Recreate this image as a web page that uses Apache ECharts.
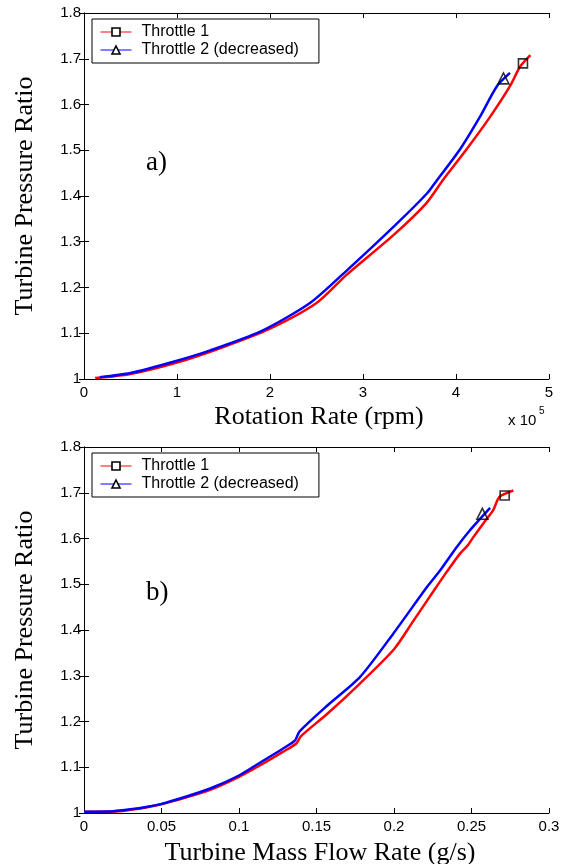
<!DOCTYPE html>
<html>
<head>
<meta charset="utf-8">
<script src="https://cdn.jsdelivr.net/npm/echarts@6/dist/echarts.min.js"></script>
<style>
  html, body { margin: 0; padding: 0; background: #fff; }
  #chart { width: 567px; height: 864px; }
</style>
</head>
<body>
<div id="chart"></div>
<script>
// panel a) : rotation rate (rpm) vs turbine pressure ratio
var rotRed = [12000, 50000, 100000, 150000, 200000, 250000, 282000, 333000, 368000, 386000, 411000, 437000, 458000, 469000, 480000];
var prRotRed = [1.002, 1.011, 1.036, 1.070, 1.11, 1.166, 1.227, 1.315, 1.384, 1.435, 1.501, 1.574, 1.640, 1.683, 1.708];
var rotBlue = [17000, 50000, 100000, 135000, 190000, 243000, 283000, 333000, 369000, 379000, 404000, 426000, 444000, 458000];
var prRotBlue = [1.004, 1.013, 1.040, 1.062, 1.104, 1.166, 1.238, 1.333, 1.406, 1.433, 1.501, 1.574, 1.640, 1.669];
var rotMarkSquare = [472000, 1.690];
var rotMarkTriangle = [451000, 1.657];

// panel b) : turbine mass flow rate (g/s) vs turbine pressure ratio
var flowRed = [0, 0.019, 0.03, 0.04, 0.05, 0.065, 0.081, 0.1, 0.114, 0.128, 0.137, 0.140, 0.157, 0.178, 0.2, 0.2125, 0.2265, 0.234, 0.2426, 0.2476, 0.2512, 0.2576, 0.264, 0.268, 0.277];
var prFlowRed = [1.003, 1.003, 1.007, 1.012, 1.019, 1.033, 1.05, 1.079, 1.105, 1.133, 1.152, 1.168, 1.217, 1.283, 1.358, 1.42, 1.49, 1.527, 1.567, 1.585, 1.603, 1.633, 1.662, 1.691, 1.705];
var flowBlue = [0, 0.019, 0.03, 0.04, 0.05, 0.065, 0.081, 0.1, 0.114, 0.128, 0.136, 0.139, 0.157, 0.178, 0.1995, 0.2215, 0.2297, 0.2404, 0.249, 0.262];
var prFlowBlue = [1.003, 1.004, 1.008, 1.013, 1.02, 1.035, 1.053, 1.082, 1.111, 1.14, 1.158, 1.178, 1.235, 1.297, 1.392, 1.495, 1.53, 1.581, 1.618, 1.667];
var flowMarkSquare = [0.2714, 1.694];
var flowMarkTriangle = [0.257, 1.654];

var seriesNames = ['Throttle 1', 'Throttle 2 (decreased)'];
var yTicks = {min: 1, max: 1.8, interval: 0.1};

function pairs(xs, ys) {
    return xs.map(function (x, i) { return [x, ys[i]]; });
}

var sans = 'Liberation Sans, Arial, sans-serif';
var serif = 'Liberation Serif, Times New Roman, serif';

function xAxisOf(grid, min, max, interval, fmt) {
    return [
        {
            type: 'value', gridIndex: grid, position: 'bottom',
            min: min, max: max, interval: interval,
            axisLine: {lineStyle: {color: '#000', width: 1}},
            axisTick: {inside: true, length: 5, lineStyle: {color: '#000'}},
            axisLabel: {color: '#000', fontFamily: sans, fontSize: 15, margin: 6, formatter: fmt},
            splitLine: {show: false}
        },
        {
            type: 'value', gridIndex: grid, position: 'top',
            min: min, max: max, interval: interval,
            axisLine: {lineStyle: {color: '#000', width: 1}},
            axisTick: {inside: true, length: 5, lineStyle: {color: '#000'}},
            axisLabel: {show: false},
            splitLine: {show: false}
        }
    ];
}

function yAxisOf(grid) {
    return [
        {
            type: 'value', gridIndex: grid, position: 'left',
            min: yTicks.min, max: yTicks.max, interval: yTicks.interval,
            axisLine: {show: true, lineStyle: {color: '#000', width: 1}},
            axisTick: {show: true, inside: true, length: 5, lineStyle: {color: '#000'}},
            axisLabel: {color: '#000', fontFamily: sans, fontSize: 15, margin: 3},
            splitLine: {show: false}
        },
        {
            type: 'value', gridIndex: grid, position: 'right',
            min: yTicks.min, max: yTicks.max, interval: yTicks.interval,
            axisLine: {show: true, lineStyle: {color: '#000', width: 1}},
            axisTick: {show: true, inside: true, length: 5, lineStyle: {color: '#000'}},
            axisLabel: {show: false},
            splitLine: {show: false}
        }
    ];
}

function lineSeries(name, color, symbol, axisIdx, data) {
    return {
        name: name, type: 'line', xAxisIndex: axisIdx, yAxisIndex: axisIdx,
        data: data, showSymbol: false, symbol: symbol,
        smooth: 0.25,
        lineStyle: {color: color, width: 2.5},
        itemStyle: {color: color},
        silent: true, animation: false
    };
}

function markSeries(symbol, size, axisIdx, pt) {
    return {
        type: 'scatter', xAxisIndex: axisIdx, yAxisIndex: axisIdx,
        data: [pt], symbol: symbol, symbolSize: size, z: 5,
        itemStyle: {color: 'rgba(0,0,0,0)', borderColor: '#000', borderWidth: 1.6},
        silent: true, animation: false
    };
}

function legendAt(top) {
    return {
        data: seriesNames, orient: 'vertical', left: 92, top: top,
        backgroundColor: '#fff', borderColor: '#000', borderWidth: 1,
        padding: [5, 20, 5, 8], itemGap: 2,
        itemWidth: 31, itemHeight: 10,
        lineStyle: {width: 1},
        itemStyle: {color: '#fff', borderColor: '#000', borderWidth: 1.6},
        textStyle: {color: '#000', fontFamily: sans, fontSize: 16, lineHeight: 16, padding: [0, 0, 0, 5]},
        selectedMode: false
    };
}

var chart = echarts.init(document.getElementById('chart'));

chart.setOption({
    backgroundColor: '#fff',
    animation: false,
    grid: [
        {left: 84, right: 18, top: 13, height: 366},
        {left: 84, right: 18, top: 447, height: 366}
    ],
    xAxis: xAxisOf(0, 0, 500000, 100000, function (v) { return v / 100000; })
        .concat(xAxisOf(1, 0, 0.3, 0.05)),
    yAxis: yAxisOf(0).concat(yAxisOf(1)),
    legend: [legendAt(19), legendAt(453)],
    series: [
        // top panel uses axis 0 (bottom/left), bottom panel axis 2
        lineSeries(seriesNames[0], '#ff0000', 'rect', 0, pairs(rotRed, prRotRed)),
        lineSeries(seriesNames[1], '#0000ff', 'triangle', 0, pairs(rotBlue, prRotBlue)),
        markSeries('rect', 9, 0, rotMarkSquare),
        markSeries('triangle', 11, 0, rotMarkTriangle),
        lineSeries(seriesNames[0], '#ff0000', 'rect', 2, pairs(flowRed, prFlowRed)),
        lineSeries(seriesNames[1], '#0000ff', 'triangle', 2, pairs(flowBlue, prFlowBlue)),
        markSeries('rect', 9, 2, flowMarkSquare),
        markSeries('triangle', 11, 2, flowMarkTriangle)
    ],
    graphic: [
        // axis titles (serif, as in the original figure)
        {type: 'text', x: 25, y: 196, rotation: Math.PI / 2,
            style: {text: 'Turbine Pressure Ratio', font: '26px ' + serif, fill: '#000', align: 'center', verticalAlign: 'middle'}},
        {type: 'text', x: 25, y: 630, rotation: Math.PI / 2,
            style: {text: 'Turbine Pressure Ratio', font: '26px ' + serif, fill: '#000', align: 'center', verticalAlign: 'middle'}},
        {type: 'text', x: 319, y: 417,
            style: {text: 'Rotation Rate (rpm)', font: '26px ' + serif, fill: '#000', align: 'center', verticalAlign: 'middle'}},
        {type: 'text', x: 320, y: 853,
            style: {text: 'Turbine Mass Flow Rate (g/s)', font: '26px ' + serif, fill: '#000', align: 'center', verticalAlign: 'middle'}},
        // panel tags
        {type: 'text', x: 146, y: 163,
            style: {text: 'a)', font: '27px ' + serif, fill: '#000', align: 'left', verticalAlign: 'middle'}},
        {type: 'text', x: 146, y: 593,
            style: {text: 'b)', font: '27px ' + serif, fill: '#000', align: 'left', verticalAlign: 'middle'}},
        // exponent of the rpm axis
        {type: 'text', x: 508, y: 421,
            style: {text: 'x 10', font: '15px ' + sans, fill: '#000', align: 'left', verticalAlign: 'middle'}},
        {type: 'text', x: 539, y: 411,
            style: {text: '5', font: '10px ' + sans, fill: '#000', align: 'left', verticalAlign: 'middle'}}
    ]
});
</script>
</body>
</html>
